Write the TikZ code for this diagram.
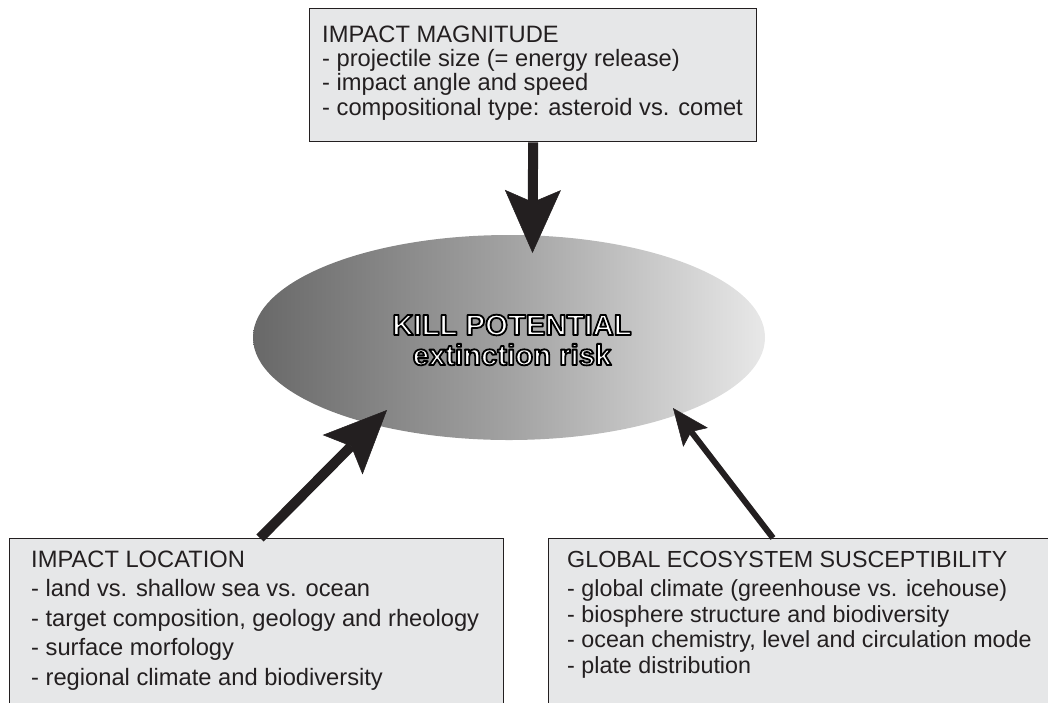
\documentclass[tikz,border=0pt]{standalone}
\usepackage{fontspec}
\setmainfont{Liberation Sans}
\usetikzlibrary{arrows.meta,shapes.geometric,calc}
\definecolor{boxfill}{HTML}{E6E7E8}
\definecolor{ink}{HTML}{231F20}
\definecolor{ellL}{RGB}{104,104,104}
\definecolor{ellM}{RGB}{162,162,162}
\definecolor{ellR}{RGB}{232,232,232}
\newcommand\outlinetext[1]{\special{pdf:literal direct 0 0 0 RG 1.8 w 1 j 2 Tr}#1\special{pdf:literal direct 0 Tr}}
\begin{document}
\begin{tikzpicture}[x=1pt,y=-1pt,
  box/.style={draw=ink, fill=boxfill, line width=1.3pt, anchor=north west, inner sep=0pt},
  boxtext/.style={anchor=base west, inner sep=0pt, text=ink},
  bigarrow/.style={draw=ink, line width=10pt, -{Stealth[length=63pt,width=56pt,inset=12pt,line width=0.5pt]}},
  thinarrow/.style={draw=ink, line width=6pt, -{Stealth[length=37pt,width=31pt,inset=7pt,line width=0.5pt]}},
  killstyle/.style={ellipse, minimum width=512pt, minimum height=205pt, inner sep=0pt,
    left color=ellL, right color=ellR, middle color=ellM, shading angle=90}]
\path[use as bounding box] (0,0) rectangle (1048,702);
\begin{scope}
\clip (0,0) rectangle (1048,702);
% boxes
\node[box, minimum width=447pt, minimum height=133pt] (mag) at (309,8) {};
\node[box, minimum width=494pt, minimum height=190pt] (loc) at (9,538) {};
\node[box, minimum width=520pt, minimum height=190pt] (geo) at (548,538) {};
% ellipse
\node[killstyle] (kill) at (509,337.5) {};
% texts
\node[boxtext] (magtxt) at (322,42) {\fontsize{23.7}{24.4}\selectfont
  \begin{tabular}[t]{@{}l@{}}IMPACT MAGNITUDE\\
  - projectile size (= energy release)\\
  - impact angle and speed\\
  - compositional type: asteroid vs. comet\end{tabular}};
\node[boxtext] (loctxt) at (31,567) {\fontsize{23.7}{29.5}\selectfont
  \begin{tabular}[t]{@{}l@{}}IMPACT LOCATION\\
  - land vs. shallow sea vs. ocean\\
  - target composition, geology and rheology\\
  - surface morfology\\
  - regional climate and biodiversity\end{tabular}};
\node[boxtext] (geotxt) at (567,567) {\fontsize{23.3}{25.5}\selectfont
  \begin{tabular}[t]{@{}l@{}}GLOBAL ECOSYSTEM SUSCEPTIBILITY\\[4pt]
  - global climate (greenhouse vs. icehouse)\\
  - biosphere structure and biodiversity\\
  - ocean chemistry, level and circulation mode\\
  - plate distribution\end{tabular}};
% arrows
\coordinate (tipT) at (532.5,253);
\coordinate (tipL) at (387,410);
\coordinate (tipR) at (673,408);
\draw[bigarrow] (mag.south) -- (tipT);
\draw[bigarrow] ($(loc.north west)+(251,0)$) -- (tipL);
\draw[thinarrow] ($(geo.north west)+(225,0)$) -- (tipR);
% centre text
\node[align=center, inner sep=0pt, text=white, font=\fontsize{29.3}{30}\selectfont\bfseries] (killtxt) at (512,340)
  {\outlinetext{KILL POTENTIAL}\\\outlinetext{extinction risk}};
\end{scope}
\end{tikzpicture}
\end{document}
